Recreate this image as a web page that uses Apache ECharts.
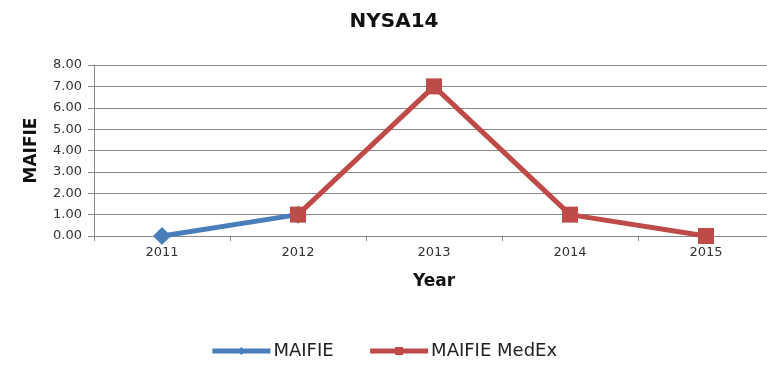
<!DOCTYPE html>
<html>
<head>
<meta charset="utf-8">
<script src="https://cdn.jsdelivr.net/npm/echarts@6/dist/echarts.min.js"></script>
<style>
  html, body { margin: 0; padding: 0; background: #fff; }
  #chart { width: 767px; height: 366px; }
</style>
</head>
<body>
<div id="chart"></div>
<script>
// Reliability index by year for feeder NYSA14
const years = ['2011', '2012', '2013', '2014', '2015'];
const maifie = [0, 1, null, null, null];
const maifieMedEx = [null, 1, 7, 1, 0];
const yTicks = { min: 0, max: 8, interval: 1 };

const chart = echarts.init(document.getElementById('chart'));
const font = '"DejaVu Sans", Arial, sans-serif';
const blue = '#4a7ebb';
const red = '#be4b48';

chart.setOption({
  animation: false,
  title: {
    text: 'NYSA14',
    left: 389, top: 7, textAlign: 'center',
    textStyle: { fontFamily: font, fontSize: 20, fontWeight: 'bold', color: '#111' }
  },
  legend: {
    top: 337, left: 'center',
    itemWidth: 58, itemHeight: 10, itemGap: 34,
    lineStyle: { width: 5 },
    textStyle: { fontFamily: font, fontSize: 18, color: '#222', padding: [0, 0, 0, -2] },
    data: ['MAIFIE', 'MAIFIE MedEx']
  },
  grid: {
    left: 94, width: 680, top: 65, bottom: 130,
    containLabel: false, outerBoundsMode: 'none'
  },
  xAxis: {
    type: 'category',
    data: years,
    boundaryGap: true,
    name: 'Year',
    nameLocation: 'middle',
    nameGap: 37,
    nameTextStyle: { fontFamily: font, fontSize: 17, fontWeight: 'bold', color: '#111' },
    axisLine: { lineStyle: { color: '#888', width: 1 } },
    axisTick: { show: true, length: 5, lineStyle: { color: '#888' } },
    axisLabel: { fontFamily: font, fontSize: 13, color: '#333', margin: 10 },
    splitLine: { show: false }
  },
  yAxis: {
    type: 'value',
    min: yTicks.min, max: yTicks.max, interval: yTicks.interval,
    name: 'MAIFIE',
    nameLocation: 'middle',
    nameGap: 54,
    nameTextStyle: { fontFamily: font, fontSize: 17, fontWeight: 'bold', color: '#111' },
    axisLine: { show: true, lineStyle: { color: '#888', width: 1 } },
    axisTick: { show: true, length: 6, lineStyle: { color: '#888' } },
    axisLabel: {
      fontFamily: font, fontSize: 13, color: '#333', margin: 12,
      formatter: v => v.toFixed(2)
    },
    splitLine: { show: true, lineStyle: { color: '#8a8a8a', width: 1 } }
  },
  series: [
    {
      name: 'MAIFIE',
      type: 'line',
      data: maifie,
      symbol: 'diamond',
      symbolSize: 18,
      lineStyle: { color: blue, width: 5 },
      itemStyle: { color: blue },
      connectNulls: false,
      z: 2
    },
    {
      name: 'MAIFIE MedEx',
      type: 'line',
      data: maifieMedEx,
      symbol: 'rect',
      symbolSize: 16,
      lineStyle: { color: red, width: 5 },
      itemStyle: { color: red },
      connectNulls: false,
      z: 3
    }
  ]
});
</script>
</body>
</html>
